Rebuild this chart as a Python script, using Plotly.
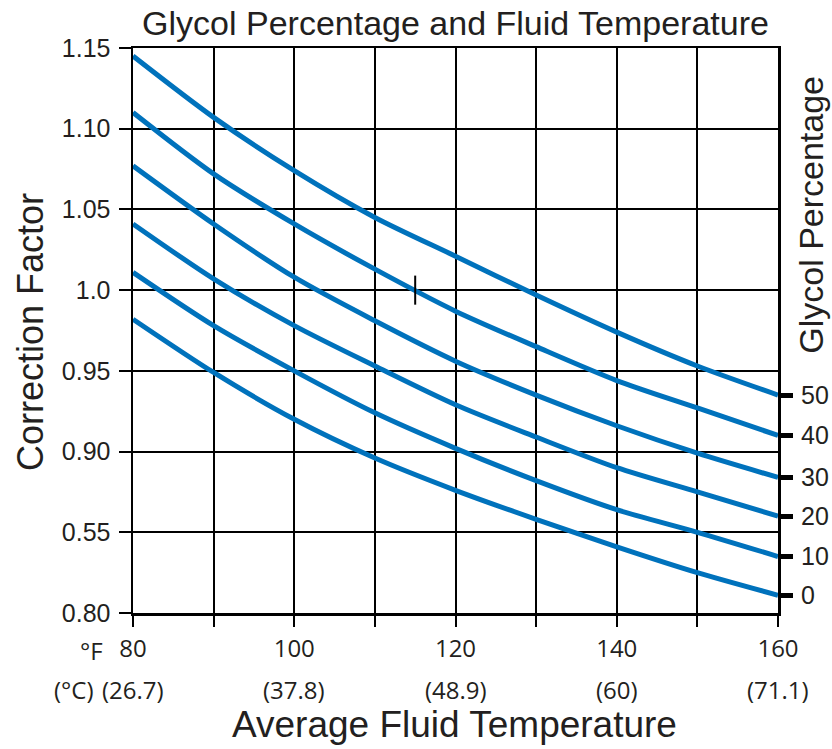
import plotly.graph_objects as go

# ---- data ----
temps_f = [80, 90, 100, 110, 120, 130, 140, 150, 160]
temp_label_f = ["80", "", "100", "", "120", "", "140", "", "160"]
temp_label_c_x = [80, 100, 120, 140, 160]
temp_label_c = ["(26.7)", "(37.8)", "(48.9)", "(60)", "(71.1)"]

glycol_pct = ["50", "40", "30", "20", "10", "0"]
cf_50 = [1.145, 1.107, 1.074, 1.045, 1.021, 0.997, 0.974, 0.953, 0.935]
cf_40 = [1.110, 1.072, 1.041, 1.013, 0.987, 0.965, 0.944, 0.927, 0.910]
cf_30 = [1.077, 1.041, 1.008, 0.981, 0.956, 0.935, 0.916, 0.899, 0.884]
cf_20 = [1.041, 1.007, 0.978, 0.953, 0.929, 0.909, 0.890, 0.875, 0.860]
cf_10 = [1.011, 0.978, 0.950, 0.924, 0.902, 0.882, 0.864, 0.850, 0.835]
cf_0 = [0.982, 0.949, 0.920, 0.896, 0.876, 0.858, 0.841, 0.825, 0.811]
series = [cf_50, cf_40, cf_30, cf_20, cf_10, cf_0]

y_tickvals = [0.80, 0.85, 0.90, 0.95, 1.00, 1.05, 1.10, 1.15]
y_ticktext = ["0.80", "0.55", "0.90", "0.95", "1.0", "1.05", "1.10", "1.15"]

marker_x = [115, 115]
marker_y = [0.991, 1.009]

BLUE = "#0072BC"
TXT = "#231F20"
FONT = "Liberation Sans, Arial, sans-serif"
TICKFONT = "Open Sans, Liberation Sans, sans-serif"

fig = go.Figure()
for name, vals in zip(glycol_pct, series):
    fig.add_trace(go.Scatter(x=temps_f, y=vals, mode="lines", name=name,
                             line=dict(color=BLUE, width=5, shape="spline", smoothing=0.8),
                             showlegend=False, hoverinfo="skip"))

fig.add_trace(go.Scatter(x=marker_x, y=marker_y, mode="lines",
                         line=dict(color="black", width=2), showlegend=False,
                         hoverinfo="skip"))

# invisible trace on the secondary y-axis (glycol percentage scale)
fig.add_trace(go.Scatter(x=[temps_f[-1]] * len(series), y=[s[-1] for s in series],
                         yaxis="y2", mode="markers", marker=dict(opacity=0),
                         showlegend=False, hoverinfo="skip"))

fig.update_layout(
    width=832, height=749,
    margin=dict(l=133, r=54, t=48, b=136, autoexpand=False),
    paper_bgcolor="white", plot_bgcolor="white",
    font=dict(family=FONT, color=TXT),
    title=dict(text="Glycol Percentage and Fluid Temperature",
               x=0.5, xref="paper", xanchor="center",
               y=1 - 23 / 749, yref="container", yanchor="middle",
               font=dict(size=34, family=FONT, color=TXT)),
    xaxis=dict(range=[80, 160], tickmode="array", tickvals=temps_f,
               ticktext=temp_label_f, ticks="outside", ticklen=11,
               tickwidth=2, tickcolor="black", automargin=False,
               showgrid=True, gridcolor="black", gridwidth=2,
               showline=True, linecolor="black", linewidth=2.5, mirror=True,
               zeroline=False, tickfont=dict(size=24, family=TICKFONT, color=TXT),
               ticklabelstandoff=2),
    yaxis=dict(range=[0.80, 1.15], tickmode="array", tickvals=y_tickvals,
               ticktext=y_ticktext, ticks="outside", ticklen=12, tickwidth=2,
               tickcolor="black", automargin=False,
               showgrid=True, gridcolor="black", gridwidth=2,
               showline=True, linecolor="black", linewidth=2.5, mirror=True,
               zeroline=False, tickfont=dict(size=25, family=FONT, color=TXT),
               ticklabelstandoff=3),
    yaxis2=dict(range=[0.80, 1.15], overlaying="y", side="right",
                tickmode="array", tickvals=[s[-1] for s in series],
                ticktext=glycol_pct, ticks="outside", ticklen=14, tickwidth=5,
                tickcolor="black", showgrid=False, showline=False, automargin=False,
                zeroline=False, tickfont=dict(size=25, family=FONT, color=TXT),
                ticklabelstandoff=3),
)

annotations = []
for xv, txt in zip(temp_label_c_x, temp_label_c):
    annotations.append(dict(x=xv, xref="x", y=-0.135, yref="paper", text=txt,
                            showarrow=False, xanchor="center", yanchor="middle",
                            font=dict(size=24, family=TICKFONT, color=TXT)))
annotations += [
    dict(x=-0.065, xref="paper", y=-0.067, yref="paper", text="°F", showarrow=False,
         xanchor="center", yanchor="middle",
         font=dict(size=24, family=TICKFONT, color=TXT)),
    dict(x=-0.0915, xref="paper", y=-0.135, yref="paper", text="(°C)", showarrow=False,
         xanchor="center", yanchor="middle",
         font=dict(size=24, family=TICKFONT, color=TXT)),
    dict(x=0.499, xref="paper", y=-0.198, yref="paper", text="Average Fluid Temperature",
         showarrow=False, xanchor="center", yanchor="middle",
         font=dict(size=37, family=FONT, color=TXT)),
    dict(x=-0.16, xref="paper", y=0.497, yref="paper", text="Correction Factor",
         showarrow=False, xanchor="center", yanchor="middle", textangle=-90,
         font=dict(size=36, family=FONT, color=TXT)),
    dict(x=1.052, xref="paper", y=0.704, yref="paper", text="Glycol Percentage",
         showarrow=False, xanchor="center", yanchor="middle", textangle=-90,
         font=dict(size=34, family=FONT, color=TXT)),
]
fig.update_layout(annotations=annotations)

fig.write_html(
    "out.html",
    config={"displayModeBar": False, "staticPlot": True},
    post_script="document.body.style.margin='0px';document.body.style.overflow='hidden';",
)
